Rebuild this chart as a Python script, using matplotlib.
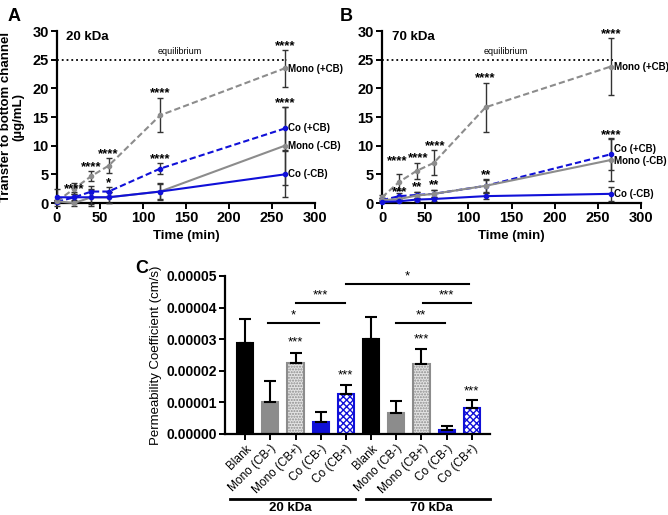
import matplotlib
matplotlib.use("Agg")
import matplotlib.pyplot as plt
import matplotlib.transforms as mtransforms

plt.rcParams['font.family'] = ['Liberation Sans', 'DejaVu Sans']

# time course data (panels A and B)
time = [0, 20, 40, 60, 120, 265]

mono_cb_20 = [0.3, 2.5, 4.7, 6.5, 15.3, 23.5]
mono_cb_20_err = [0.3, 1.0, 0.8, 1.3, 3.0, 3.2]
co_cb_20 = [0.2, 1.0, 2.0, 2.0, 6.0, 13.0]
co_cb_20_err = [0.2, 0.6, 1.0, 0.8, 1.0, 3.8]
mono_20 = [0.3, 0.0, 1.0, 1.0, 2.0, 10.0]
mono_20_err = [0.2, 0.5, 1.5, 1.0, 1.5, 6.8]
co_20 = [1.0, 1.0, 1.0, 1.0, 2.0, 5.0]
co_20_err = [1.5, 1.0, 1.2, 1.0, 1.3, 4.0]

mono_cb_70 = [1.0, 3.7, 5.6, 7.0, 16.7, 23.8]
mono_cb_70_err = [0.4, 1.4, 1.4, 2.2, 4.3, 4.9]
co_cb_70 = [0.5, 1.2, 1.4, 1.6, 3.0, 8.5]
co_cb_70_err = [0.3, 0.5, 0.5, 0.6, 1.0, 2.8]
mono_70 = [0.5, 0.7, 1.3, 1.6, 3.0, 7.5]
mono_70_err = [0.3, 0.4, 0.6, 0.7, 1.2, 3.7]
co_70 = [0.2, 0.3, 0.6, 0.7, 1.2, 1.6]
co_70_err = [0.1, 0.2, 0.3, 0.3, 0.5, 1.2]

# significance stars (x, y, text)
stars_20 = [(20, 2.5, '****'), (40, 6.3, '****'), (60, 8.6, '****'), (60, 3.4, '*'),
            (120, 19.1, '****'), (120, 7.7, '****'), (265, 27.4, '****'), (265, 17.4, '****')]
stars_70 = [(18, 7.3, '****'), (42, 7.9, '****'), (61, 10.0, '****'), (120, 21.8, '****'),
            (265, 29.5, '****'), (265, 11.9, '****'),
            (20, 1.9, '***'), (40, 2.8, '**'), (60, 3.1, '**'), (120, 4.8, '**')]

# end labels (y positions)
labels = ['Mono (+CB)', 'Co (+CB)', 'Mono (-CB)', 'Co (-CB)']
label_y_20 = [23.3, 13.0, 9.9, 5.0]
label_y_70 = [23.8, 9.4, 7.3, 1.6]

# permeability data (panel C)
bar_labels = ['Blank', 'Mono (CB-)', 'Mono (CB+)', 'Co (CB-)', 'Co (CB+)'] * 2
perm = [2.89e-5, 1.0e-5, 2.24e-5, 3.8e-6, 1.28e-5,
        3.0e-5, 6.6e-6, 2.21e-5, 1.3e-6, 8.2e-6]
perm_err = [7.4e-6, 6.8e-6, 3.2e-6, 3.2e-6, 2.7e-6,
            7.0e-6, 3.8e-6, 4.8e-6, 1.3e-6, 2.6e-6]

GRAY = '#8c8c8c'
BLUE = '#1010d8'

fig = plt.figure(figsize=(6.68, 5.15), dpi=100)
axA = fig.add_axes([0.0853, 0.6058, 0.3862, 0.334])
axB = fig.add_axes([0.5719, 0.6058, 0.3877, 0.334])
axC = fig.add_axes([0.3368, 0.1573, 0.3967, 0.3068])


def style_axes(ax, size):
    for s in ['top', 'right']:
        ax.spines[s].set_visible(False)
    for s in ['left', 'bottom']:
        ax.spines[s].set_linewidth(1.6)
    ax.tick_params(width=1.4, length=4, labelsize=size, pad=2)
    for lab in ax.get_xticklabels() + ax.get_yticklabels():
        lab.set_fontweight('bold')


def time_panel(ax, series, stars, label_y, title):
    for y, err, color, ls in series:
        ax.errorbar(time, y, yerr=err, color=color, ls=ls, lw=1.5, marker='o', ms=3,
                    ecolor='#333333', elinewidth=1.0, capsize=2.5, capthick=1.0,
                    dashes=(3, 1.5) if ls == '--' else (None, None), clip_on=False, zorder=3)
    ax.plot([0, 267], [25, 25], ls=':', color='black', lw=1.3)
    ax.text(143, 25.6, 'equilibrium', fontsize=6.5, ha='center', va='bottom')
    for x, y, s in stars:
        ax.text(x, y, s, fontsize=9.5, fontweight='bold', ha='center', va='center', zorder=4)
    for lab, y in zip(labels, label_y):
        ax.text(269, y, lab, fontsize=7, fontweight='bold', ha='left', va='center',
                clip_on=False)
    ax.text(11, 28.9, title, fontsize=9.5, fontweight='bold', ha='left', va='center')
    ax.set_xlim(0, 300)
    ax.set_ylim(0, 30)
    ax.set_xticks(range(0, 301, 50))
    ax.set_yticks(range(0, 31, 5))
    ax.set_xlabel('Time (min)', fontsize=9.5, fontweight='bold', labelpad=3)
    style_axes(ax, 10.5)


time_panel(axA, [(mono_cb_20, mono_cb_20_err, GRAY, '--'),
                 (co_cb_20, co_cb_20_err, BLUE, '--'),
                 (mono_20, mono_20_err, GRAY, '-'),
                 (co_20, co_20_err, BLUE, '-')], stars_20, label_y_20, '20 kDa')
time_panel(axB, [(mono_cb_70, mono_cb_70_err, GRAY, '--'),
                 (co_cb_70, co_cb_70_err, BLUE, '--'),
                 (mono_70, mono_70_err, GRAY, '-'),
                 (co_70, co_70_err, BLUE, '-')], stars_70, label_y_70, '70 kDa')
axA.set_ylabel('Transfer to bottom channel\n(\u00b5g/mL)', fontsize=9.5, fontweight='bold',
               linespacing=1.1)
axA.yaxis.set_label_coords(-0.125, 0.5)

# panel C
faces = ['black', GRAY, '#e4e4e4', BLUE, 'white'] * 2
edges = ['black', GRAY, GRAY, BLUE, BLUE] * 2
hatches = ['', '', '......', '', 'xxxxx'] * 2
x = list(range(len(perm)))
for i in x:
    axC.bar(i, perm[i], width=0.64, color=faces[i], edgecolor=edges[i], hatch=hatches[i],
            linewidth=1.5, zorder=2)
axC.errorbar(x, perm, yerr=[[0] * len(perm), perm_err], fmt='none', ecolor='black',
             elinewidth=1.5, capsize=4, capthick=1.5, zorder=3)
axC.set_xlim(-0.8, 9.72)
axC.set_ylim(0, 0.00005)
axC.set_yticks([0, 0.00001, 0.00002, 0.00003, 0.00004, 0.00005])
axC.set_yticklabels(['%.5f' % v for v in axC.get_yticks()])
axC.set_xticks(x)
axC.set_xticklabels(bar_labels, rotation=45, ha='right', rotation_mode='anchor',
                    fontsize=8.5)
axC.set_ylabel('Permeability Coefficient (cm/s)', fontsize=9.5, labelpad=3)
style_axes(axC, 10)
for lab in axC.get_xticklabels():
    lab.set_fontweight('normal')
    lab.set_fontsize(8.5)

# significance bars in C: (x0, x1, y, text)
sig_c = [(4.0, 8.9, 4.75e-5, '*'), (2.0, 3.95, 4.15e-5, '***'), (0.9, 2.95, 3.5e-5, '*'),
         (6.0, 7.95, 3.5e-5, '**'), (7.05, 8.95, 4.15e-5, '***')]
for x0, x1, y, s in sig_c:
    axC.plot([x0, x1], [y, y], color='black', lw=1.5, clip_on=False)
    axC.text((x0 + x1) / 2, y + 0.05e-5, s, fontsize=9.5, ha='center', va='bottom')
star_c = [(2, 2.9e-5), (4, 1.85e-5), (7, 3.0e-5), (9, 1.35e-5)]
for xi, y in star_c:
    axC.text(xi, y, '***', fontsize=9.5, ha='center', va='center')

trans = mtransforms.blended_transform_factory(axC.transData, axC.transAxes)
axC.plot([-0.6, 4.37], [-0.411, -0.411], color='black', lw=2, transform=trans, clip_on=False)
axC.plot([4.8, 9.72], [-0.411, -0.411], color='black', lw=2, transform=trans, clip_on=False)
axC.text(1.8, -0.47, '20 kDa', fontsize=9.5, fontweight='bold', ha='center', va='center',
         transform=trans)
axC.text(7.4, -0.47, '70 kDa', fontsize=9.5, fontweight='bold', ha='center', va='center',
         transform=trans)

fig.text(0.012, 0.985, 'A', fontsize=13, fontweight='bold', ha='left', va='top')
fig.text(0.508, 0.985, 'B', fontsize=13, fontweight='bold', ha='left', va='top')
fig.text(0.203, 0.495, 'C', fontsize=13, fontweight='bold', ha='left', va='top')

fig.savefig('out.png', dpi=100)
